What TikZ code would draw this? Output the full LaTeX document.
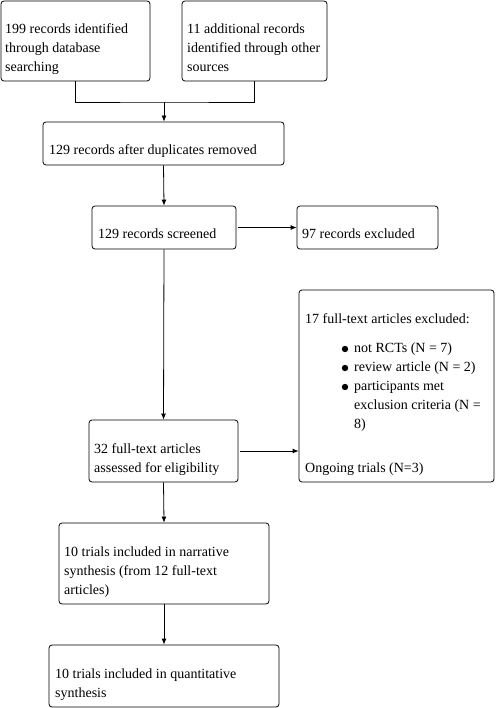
\documentclass[tikz,border=0pt]{standalone}
\usepackage{fontspec}
\setmainfont{Liberation Serif}
\usepackage{tikz}
\usetikzlibrary{
    positioning,
    arrows.meta,
    calc
}

\begin{document}
\begin{tikzpicture}[x=1pt, y=-1pt,
        box/.style={draw, rounded corners=3pt, line width=0.8pt, inner sep=0pt},
        txt/.style={anchor=base west, inner sep=0pt, align=left, font=\fontsize{14}{19}\selectfont},
        arr/.style={-{Latex[length=6pt,width=5pt]}, line width=0.8pt}]
        \useasboundingbox (0,0) rectangle (496,708);
        % 枠
        \node[box, minimum width=149, minimum height=80] (idDb) at (75.5,41) {};
        \node[box, minimum width=145, minimum height=80] (idOther) at (254.5,41) {};
        \node[box, minimum width=241, minimum height=43] (dedup) at (163.5,143.5) {};
        \node[box, minimum width=144, minimum height=43] (screened) at (164,227.5) {};
        \node[box, minimum width=141, minimum height=43] (excluded) at (367.5,227.5) {};
        \node[box, minimum width=195, minimum height=192] (ftExcl) at (396.5,386) {};
        \node[box, minimum width=149, minimum height=62] (ftAssessed) at (163.5,451) {};
        \node[box, minimum width=210, minimum height=81] (narrative) at (164,563.5) {};
        \node[box, minimum width=230, minimum height=62] (quant) at (164,676) {};
        
        % 文字 (座標は最終行のベースライン)
        \node[txt] (idDbText) at (5,72) {199 records identified\\through database\\searching};
        \node[txt] (idOtherText) at (187,72) {11 additional records\\identified through other\\sources};
        \node[txt] (dedupText) at (49,155) {129 records after duplicates removed};
        \node[txt] (screenedText) at (98,239) {129 records screened};
        \node[txt] (excludedText) at (302,239) {97 records excluded};
        \node[txt] (ftExclText) at (305,323) {17 full-text articles excluded:};
        \node[txt] (reasonText) at (354,428) {not RCTs (N = 7)\\review article (N = 2)\\participants met\\exclusion criteria (N =\\8)};
        \node[txt] (ongoingText) at (305,472) {Ongoing trials (N=3)};
        \node[txt] (ftAssessedText) at (94,472) {32 full-text articles\\assessed for eligibility};
        \node[txt] (narrativeText) at (64,594) {10 trials included in narrative\\synthesis (from 12 full-text\\articles)};
        \node[txt] (quantText) at (55,697) {10 trials included in quantitative\\synthesis};
        \foreach \y in {349,368,387} \fill (345,\y) circle (3.2);
        
        % 矢印
        \coordinate (join) at (164,102);
        \draw[line width=0.8pt] (idDb.south) |- (join) -| (idOther.south);
        \draw[arr] (join) -- (join |- dedup.north);
        \draw[arr] (dedup.south) -- (screened.north);
        \draw[arr] ([xshift=2pt]screened.east) -- (excluded.west);
        \draw[arr] (screened.south) -- (ftAssessed.north);
        \draw[arr] ([xshift=2pt]ftAssessed.east) -- (ftAssessed.east -| ftExcl.west);
        \draw[arr] (ftAssessed.south) -- (narrative.north);
        \draw[arr] (narrative.south) -- (quant.north);
    \end{tikzpicture}
\end{document}
